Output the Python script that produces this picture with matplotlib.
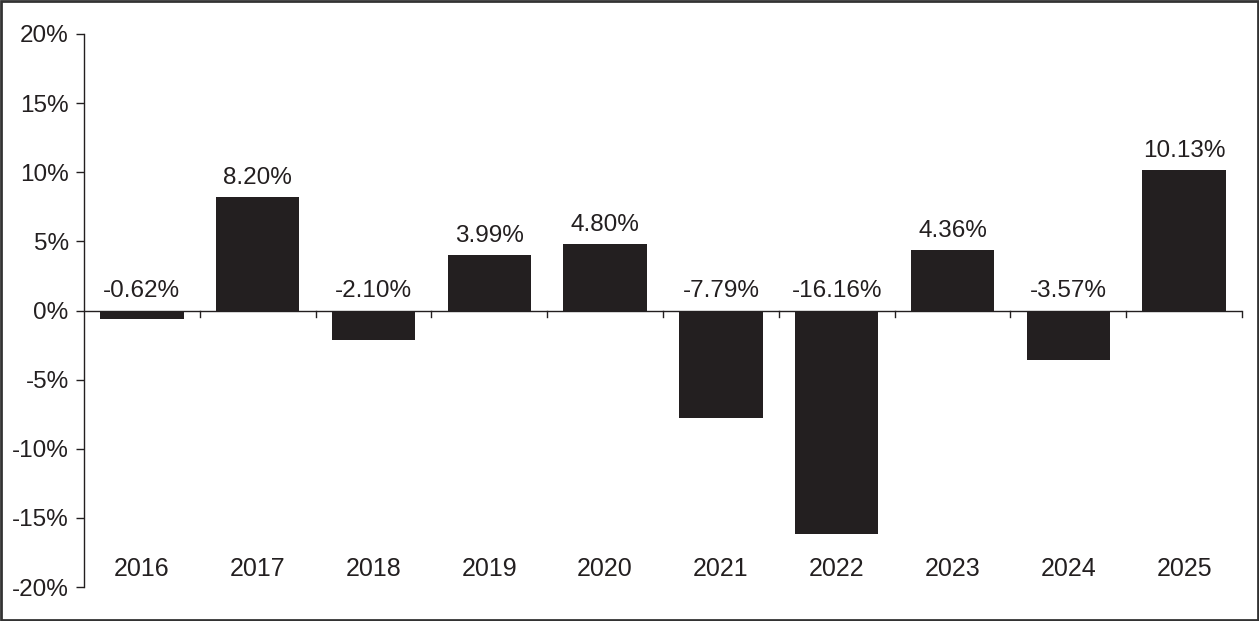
import numpy as np
import matplotlib.pyplot as plt
from matplotlib.patches import Rectangle

years = ['2016', '2017', '2018', '2019', '2020', '2021', '2022', '2023', '2024', '2025']
returns = [-0.62, 8.20, -2.10, 3.99, 4.80, -7.79, -16.16, 4.36, -3.57, 10.13]
yticks = [-20, -15, -10, -5, 0, 5, 10, 15, 20]

plt.rcParams['font.family'] = ['Liberation Sans', 'DejaVu Sans']
ink = '#231f20'

fig = plt.figure(figsize=(12.59, 6.21), dpi=100)
ax = fig.add_axes([84 / 1259, (621 - 587) / 621, (1242 - 84) / 1259, (587 - 34) / 621])

x = np.arange(len(years))
ax.bar(x, returns, width=0.72, color=ink, zorder=2)

ax.set_xlim(-0.5, len(years) - 0.5)
ax.set_ylim(-20, 20)

# zero line with boundary ticks
ax.axhline(0, color=ink, lw=1.0, zorder=3)
for b in np.arange(0.5, len(years), 1.0):
    ax.plot([b, b], [0, -0.45], color=ink, lw=1.0, zorder=3, clip_on=False)

for xi, v in zip(x, returns):
    ax.annotate(f'{v:.2f}%', (xi, max(v, 0)), xytext=(0, 6), textcoords='offset points',
                ha='center', va='bottom', fontsize=17.5, color=ink)
    ax.text(xi, -18.7, years[xi], ha='center', va='center', fontsize=18, color=ink)

ax.set_yticks(yticks)
ax.set_yticklabels([f'{t}%' for t in yticks])
ax.tick_params(axis='y', direction='out', length=6, width=1, pad=5, labelsize=17.5, colors=ink)
ax.set_xticks([])
for s in ['top', 'right', 'bottom']:
    ax.spines[s].set_visible(False)
ax.spines['left'].set_color(ink)
ax.spines['left'].set_linewidth(1.0)

fig.patches.append(Rectangle((0.001, 0.002), 0.998, 0.996, transform=fig.transFigure,
                             fill=False, edgecolor='#333333', lw=2))

fig.savefig('out.png', dpi=100)
